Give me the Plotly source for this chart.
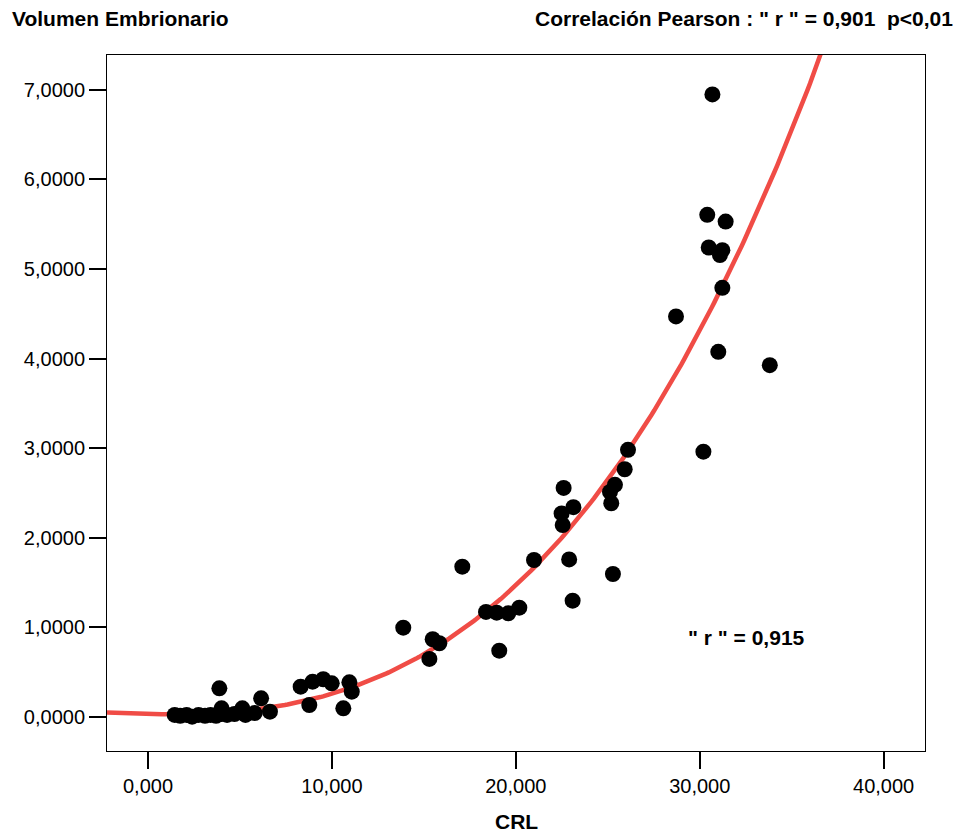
import numpy as np
import plotly.graph_objects as go

# CRL (mm) and embryonic volume (cm3)
crl = [1.45, 1.75, 2.1, 2.4, 2.75, 3.1, 3.4, 3.7, 4.0, 4.3, 4.7, 5.3, 5.8,
       3.88, 4.0, 5.13, 6.15, 6.63,
       8.30, 8.95, 9.53, 9.99, 10.95, 11.08, 10.62, 8.77,
       13.88, 15.48, 15.84, 15.30,
       17.09, 18.38, 18.96, 19.59, 20.19, 19.10,
       20.99, 22.90, 23.09, 22.55, 22.49, 23.13, 22.60,
       25.28, 25.19, 25.12, 25.39, 25.92, 26.10,
       28.71, 30.20, 31.01, 33.81, 31.23, 31.10, 31.23, 30.49, 31.41, 30.41, 30.69]
volumen = [0.02, 0.01, 0.02, 0.00, 0.02, 0.01, 0.02, 0.01, 0.03, 0.02, 0.03, 0.02, 0.04,
           0.317, 0.094, 0.094, 0.205, 0.056,
           0.335, 0.391, 0.418, 0.373, 0.384, 0.28, 0.094, 0.131,
           0.994, 0.865, 0.82, 0.645,
           1.676, 1.17, 1.162, 1.155, 1.218, 0.737,
           1.75, 1.757, 1.296, 2.14, 2.27, 2.34, 2.555,
           1.594, 2.384, 2.51, 2.59, 2.764, 2.98,
           4.47, 2.96, 4.075, 3.926, 4.79, 5.155, 5.21, 5.24, 5.53, 5.605, 6.95]

# cubic fit coefficients (a*x^3 + b*x^2 + c*x + d)
fit_coef = [1.083e-4, 1.675e-3, -0.005, 0.03]

x_ticks = [0, 10, 20, 30, 40]
y_ticks = [0, 1, 2, 3, 4, 5, 6, 7]

x_range = [-2.23, 42.25]
y_range = [-0.383, 7.39]

xf = np.linspace(x_range[0], x_range[1], 300)
yf = np.polyval(fit_coef, xf)

fig = go.Figure()
fig.add_trace(go.Scatter(x=xf, y=yf, mode="lines",
                         line=dict(color="rgb(240,76,70)", width=4.5),
                         hoverinfo="skip", showlegend=False))
fig.add_trace(go.Scatter(x=crl, y=volumen, mode="markers",
                         marker=dict(color="black", size=16, line=dict(width=0)),
                         showlegend=False))

axis_common = dict(showgrid=False, zeroline=False, showline=True, linecolor="black",
                   linewidth=1, mirror=True, ticks="outside", ticklen=17, tickwidth=2,
                   tickcolor="black",
                   tickfont=dict(family="Liberation Sans, Arial, sans-serif", size=20, color="black"))

fig.update_xaxes(range=x_range, tickvals=x_ticks, tickformat=".3f", **axis_common)
fig.update_yaxes(range=y_range, tickvals=y_ticks, tickformat=".4f", **axis_common)

bold = dict(family="Liberation Sans, Arial, sans-serif", size=21, color="black")
fig.update_layout(
    width=962, height=839,
    margin=dict(l=107, r=37, t=55, b=88),
    plot_bgcolor="white", paper_bgcolor="white",
    separators=", ",
    annotations=[
        dict(text="<b>Volumen Embrionario</b>", xref="paper", yref="paper",
             x=-0.1186, y=1.053, xanchor="left", yanchor="middle", showarrow=False, font=bold),
        dict(text="<b>Correlación Pearson : \" r \" = 0,901\u00a0\u00a0p<0,01</b>", xref="paper", yref="paper",
             x=1.0367, y=1.053, xanchor="right", yanchor="middle", showarrow=False, font=bold),
        dict(text="<b>CRL</b>", xref="paper", yref="paper",
             x=0.5, y=-0.102, xanchor="center", yanchor="middle", showarrow=False, font=bold),
        dict(text="<b>\" r \" = 0,915</b>", xref="x", yref="y",
             x=32.57, y=0.89, xanchor="center", yanchor="middle", showarrow=False, font=bold),
    ],
)

fig.write_html("out.html")
